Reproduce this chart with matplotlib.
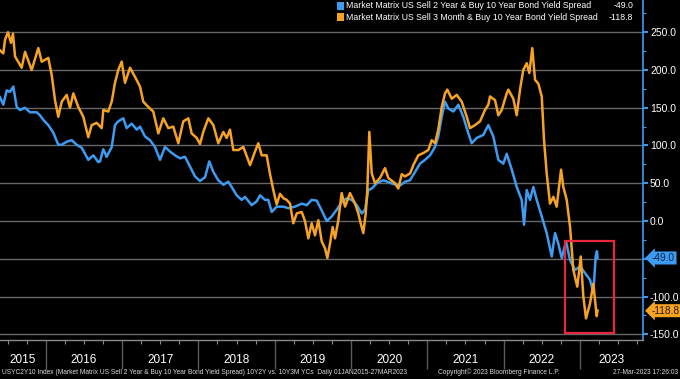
import matplotlib
matplotlib.use("Agg")
import matplotlib.pyplot as plt
import matplotlib.transforms as mtransforms
from matplotlib.patches import Rectangle
from matplotlib.ticker import MultipleLocator, FixedLocator, NullFormatter

# Спред 2Y/10Y (десятичный год, б.п.)
t_2y10y = [2015.400, 2015.443, 2015.488, 2015.531, 2015.574, 2015.619, 2015.662, 2015.728, 2015.793, 2015.881,
           2015.924, 2015.967, 2016.033, 2016.099, 2016.164, 2016.209, 2016.274, 2016.340, 2016.405, 2016.471,
           2016.557, 2016.623, 2016.688, 2016.711, 2016.754, 2016.798, 2016.864, 2016.907, 2016.950, 2017.016,
           2017.060, 2017.126, 2017.192, 2017.235, 2017.300, 2017.366, 2017.431, 2017.497, 2017.562, 2017.628,
           2017.694, 2017.759, 2017.825, 2017.890, 2017.956, 2018.021, 2018.087, 2018.143, 2018.196, 2018.261,
           2018.327, 2018.392, 2018.437, 2018.502, 2018.568, 2018.611, 2018.699, 2018.764, 2018.808, 2018.873,
           2018.916, 2018.961, 2019.026, 2019.113, 2019.179, 2019.266, 2019.354, 2019.420, 2019.485, 2019.551,
           2019.616, 2019.682, 2019.747, 2019.813, 2019.878, 2019.944, 2020.009, 2020.075, 2020.141, 2020.184,
           2020.227, 2020.272, 2020.337, 2020.424, 2020.555, 2020.642, 2020.708, 2020.774, 2020.839, 2020.905,
           2020.970, 2021.036, 2021.101, 2021.144, 2021.189, 2021.232, 2021.276, 2021.341, 2021.407, 2021.472,
           2021.538, 2021.582, 2021.648, 2021.734, 2021.800, 2021.865, 2021.931, 2021.996, 2022.041, 2022.107,
           2022.172, 2022.237, 2022.268, 2022.303, 2022.346, 2022.390, 2022.434, 2022.500, 2022.565, 2022.631,
           2022.674, 2022.717, 2022.762, 2022.818, 2022.871, 2022.936, 2023.002, 2023.067, 2023.133, 2023.176,
           2023.207, 2023.224, 2023.231]
v_2y10y = [164, 154, 173, 171, 178, 151, 147, 150, 144, 144,
           140, 134, 127, 117, 101, 101, 105, 107, 101, 97,
           81, 87, 78, 79, 95, 85, 98, 127, 132, 136,
           123, 129, 121, 125, 112, 107, 98, 81, 98, 92,
           87, 83, 85, 72, 59, 53, 58, 79, 65, 54,
           48, 52, 45, 34, 28, 32, 21, 26, 34, 28,
           28, 12, 19, 19, 17, 19, 23, 21, 28, 27,
           14, 0, 6, 15, 25, 30, 28, 21, 10, 15,
           41, 43, 50, 54, 49, 47, 52, 54, 65, 76,
           81, 87, 98, 112, 138, 158, 149, 145, 154, 138,
           116, 103, 110, 114, 127, 112, 81, 76, 89, 68,
           45, 28, -5, 41, 28, 45, 28, 6, -16, -47,
           -16, -30, -49, -27, -52, -65, -60, -69, -78, -95,
           -47, -40, -49]

# Спред 3M/10Y
t_3m10y = [2015.400, 2015.443, 2015.466, 2015.505, 2015.544, 2015.570, 2015.597, 2015.684, 2015.728, 2015.815,
           2015.902, 2015.947, 2016.033, 2016.078, 2016.121, 2016.164, 2016.209, 2016.274, 2016.317, 2016.361,
           2016.426, 2016.492, 2016.557, 2016.602, 2016.667, 2016.733, 2016.754, 2016.819, 2016.864, 2016.907,
           2016.950, 2016.995, 2017.038, 2017.104, 2017.169, 2017.235, 2017.278, 2017.344, 2017.409, 2017.475,
           2017.540, 2017.606, 2017.671, 2017.737, 2017.802, 2017.868, 2017.912, 2017.978, 2018.021, 2018.064,
           2018.130, 2018.196, 2018.261, 2018.327, 2018.371, 2018.414, 2018.458, 2018.523, 2018.589, 2018.677,
           2018.742, 2018.785, 2018.830, 2018.895, 2018.939, 2018.982, 2019.026, 2019.070, 2019.116, 2019.158,
           2019.201, 2019.244, 2019.289, 2019.354, 2019.397, 2019.441, 2019.485, 2019.528, 2019.572, 2019.616,
           2019.659, 2019.690, 2019.725, 2019.760, 2019.791, 2019.834, 2019.878, 2019.922, 2019.987, 2020.053,
           2020.096, 2020.127, 2020.161, 2020.193, 2020.214, 2020.240, 2020.272, 2020.315, 2020.380, 2020.446,
           2020.489, 2020.577, 2020.620, 2020.665, 2020.708, 2020.774, 2020.817, 2020.882, 2020.948, 2021.013,
           2021.058, 2021.101, 2021.144, 2021.189, 2021.232, 2021.262, 2021.320, 2021.386, 2021.451, 2021.517,
           2021.560, 2021.625, 2021.691, 2021.756, 2021.800, 2021.822, 2021.888, 2021.931, 2021.975, 2022.041,
           2022.062, 2022.127, 2022.172, 2022.215, 2022.258, 2022.303, 2022.337, 2022.376, 2022.412, 2022.455,
           2022.500, 2022.530, 2022.565, 2022.608, 2022.652, 2022.696, 2022.753, 2022.783, 2022.827, 2022.871,
           2022.914, 2022.966, 2023.011, 2023.045, 2023.080, 2023.133, 2023.176,
           2023.220, 2023.231]
v_3m10y = [226, 222, 240, 250, 236, 248, 218, 203, 224, 200,
           229, 211, 216, 193, 160, 138, 158, 167, 150, 169,
           151, 138, 111, 127, 130, 123, 147, 145, 158, 183,
           200, 211, 183, 203, 191, 178, 158, 151, 145, 116,
           136, 123, 125, 103, 132, 136, 116, 110, 102, 118,
           136, 127, 103, 118, 110, 121, 94, 94, 98, 74,
           92, 103, 87, 87, 62, 41, 22, 36, 30, 28,
           23, -3, 10, 12, 0, -23, -3, -19, 1, -27,
           -36, -49, -30, -8, -23, 1, 37, 19, 37, 23,
           10, -3, -16, 10, 41, 118, 63, 50, 57, 70,
           57, 50, 43, 62, 59, 63, 74, 87, 90, 94,
           107, 103, 121, 151, 169, 174, 162, 167, 158, 138,
           123, 127, 132, 147, 154, 165, 160, 140, 147, 169,
           174, 162, 140, 174, 200, 209, 196, 229, 187, 182,
           165, 107, 63, 23, 32, 19, 68, 45, 28, -8,
           -65, -87, -47, -100, -129, -109, -83,
           -126, -118.8]

label_2y10y = "Market Matrix US Sell 2 Year & Buy 10 Year Bond Yield Spread"
label_3m10y = "Market Matrix US Sell 3 Month & Buy 10 Year Bond Yield Spread"
last_2y10y = -49.0
last_3m10y = -118.8
years = list(range(2015, 2024))

BLUE = "#3d9bf2"
ORANGE = "#f6a324"
GRID = "#666666"

plt.rcParams["font.family"] = ["Liberation Sans", "DejaVu Sans"]

fig = plt.figure(figsize=(6.8, 3.79), dpi=100, facecolor="black")
ax = fig.add_axes([0.0, 0.1029, 643 / 680, 0.8971], facecolor="black")

ax.plot(t_2y10y, v_2y10y, color=BLUE, lw=1.8, solid_joinstyle="round")
ax.plot(t_3m10y, v_3m10y, color=ORANGE, lw=1.8, solid_joinstyle="round")

xmin, xmax = 2015.40, 2023.827
ax.set_xlim(xmin, xmax)
ax.set_ylim(-157.6, 292.7)

# Ось Y справа
ax.yaxis.tick_right()
ax.yaxis.set_major_locator(FixedLocator([-150, -100, -50, 0, 50, 100, 150, 200, 250]))
ax.yaxis.set_minor_locator(MultipleLocator(25))
ax.yaxis.set_major_formatter(lambda v, pos: "" if v == -50 else f"{v:.1f}")
ax.tick_params(axis="y", which="major", colors=BLUE, labelcolor="white", length=3.5, width=1.4,
               labelsize=7.5, pad=1.5)
ax.tick_params(axis="y", which="minor", colors=BLUE, length=2, width=0.8)
ax.grid(axis="y", which="major", color=GRID, lw=1.0)

for side in ["left", "top"]:
    ax.spines[side].set_visible(False)
ax.spines["right"].set_color(BLUE)
ax.spines["right"].set_linewidth(1.2)
ax.spines["bottom"].set_color("#8a8a8a")
ax.spines["bottom"].set_linewidth(1.0)

# Ось X: границы лет и кварталы
ax.xaxis.set_major_locator(FixedLocator(years[1:]))
ax.xaxis.set_minor_locator(FixedLocator([y + q / 4 for y in years for q in range(1, 4)]))
ax.xaxis.set_major_formatter(NullFormatter())
ax.tick_params(axis="x", which="major", colors="#5a5a5a", length=21, width=1.0)
ax.tick_params(axis="x", which="minor", colors="#8a8a8a", length=3, width=0.8)

xtrans = mtransforms.blended_transform_factory(ax.transData, ax.transAxes)
for y in years:
    lo, hi = max(y, xmin), min(y + 1, xmax)
    ax.text((lo + hi) / 2, -0.058, str(y), transform=xtrans, ha="center", va="center",
            color="white", fontsize=8.5, clip_on=False)

# Метки последних значений
ytrans = mtransforms.blended_transform_factory(ax.transAxes, ax.transData)
ax.text(1.014, last_2y10y, f"{last_2y10y:.1f}", transform=ytrans, ha="left", va="center",
        fontsize=7.3, color="#0b2545", clip_on=False,
        bbox=dict(boxstyle="larrow,pad=0.15", fc=BLUE, ec="none"))
ax.text(1.014, last_3m10y, f"{last_3m10y:.1f}", transform=ytrans, ha="left", va="center",
        fontsize=7.3, color="#2a1600", clip_on=False,
        bbox=dict(boxstyle="larrow,pad=0.15", fc=ORANGE, ec="none"))

# Красная рамка вокруг инверсии
ax.add_patch(Rectangle((2022.805, -148.3), 0.642, 121.8, fill=False, ec="#e8263c", lw=1.6, zorder=5))

# Легенда
for i, (lab, val, col) in enumerate([(label_2y10y, last_2y10y, BLUE), (label_3m10y, last_3m10y, ORANGE)]):
    yy = 1 - (6 + 11 * i) / 379
    fig.patches.append(Rectangle((337 / 680, yy - 3.5 / 379), 7 / 680, 7 / 379, transform=fig.transFigure,
                                 fc=col, ec="none"))
    fig.text(346 / 680, yy, lab, color="white", fontsize=6.35, va="center", ha="left")
    fig.text(633 / 680, yy, f"{val:.1f}", color="white", fontsize=6.35, va="center", ha="right")

# Подвал
fig.text(2 / 680, 7 / 379, "USYC2Y10 Index (Market Matrix US Sell 2 Year & Buy 10 Year Bond Yield Spread) "
         "10Y2Y vs. 10Y3M YCs  Daily 01JAN2015-27MAR2023", color="#d8d8d8", fontsize=4.8, va="center")
fig.text(438 / 680, 7 / 379, "Copyright\u00a9 2023 Bloomberg Finance L.P.", color="#d8d8d8", fontsize=4.8,
         va="center")
fig.text(678 / 680, 7 / 379, "27-Mar-2023 17:26:03", color="#d8d8d8", fontsize=4.8, va="center", ha="right")

fig.savefig("out.png", dpi=100, facecolor="black")
